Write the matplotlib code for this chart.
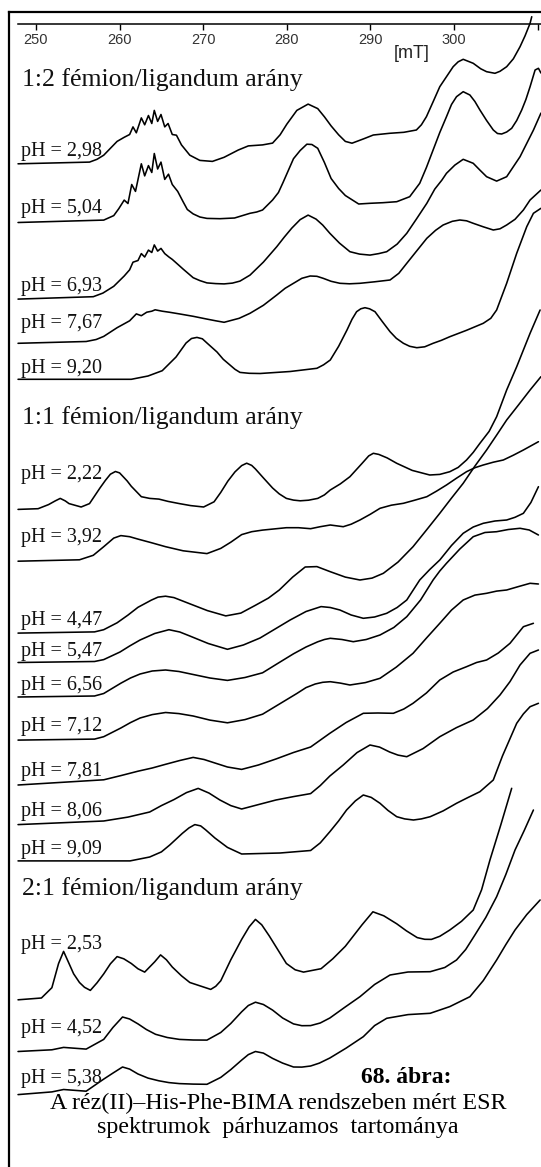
import matplotlib
matplotlib.use('Agg')
import matplotlib.pyplot as plt
from matplotlib.lines import Line2D
import matplotlib.transforms as mtransforms

SERIF = ['Liberation Serif', 'DejaVu Serif']
SANS = ['Liberation Sans', 'DejaVu Sans']

# ---------------- data: (field in mT, signal in arbitrary units) ----------------
group_titles = ["1:2 fémion/ligandum arány", "1:1 fémion/ligandum arány", "2:1 fémion/ligandum arány"]
ph_12 = ["2,98", "5,04", "6,93", "7,67", "9,20"]
ph_11 = ["2,22", "3,92", "4,47", "5,47", "6,56", "7,12", "7,81", "8,06", "9,09"]
ph_21 = ["2,53", "4,52", "5,38"]
tick_values = [250, 260, 270, 280, 290, 300, 310]
tick_labels = ["250", "260", "270", "280", "290", "300", ""]
unit_label = "[mT]"
caption_title = "68. ábra:"
caption_lines = ["A réz(II)–His-Phe-BIMA rendszeben mért ESR", "spektrumok  párhuzamos  tartománya"]

# 1:2 ratio
spec_12_298 = [(247.85,0),(256.4,1.7),(257.3,4.5),(258.1,8.6),(259.7,22.4),(260.55,26.5),(261.2,29.3),(261.6,36.9),(262.0,31),(262.6,45.9),(263.0,39),(263.45,48.3),(263.85,40.3),(264.15,53.4),(264.55,42.4),(264.95,49.3),(265.4,36.9),(265.8,40.3),(266.3,29.3),(266.8,28.6),(267.4,18.9),(268.4,8.6),(269.6,3.4),(271.1,2.4),(272.5,6.5),(274.2,13.8),(275.4,17.9),(277.1,18.9),(278.3,20.7),(279.2,29),(280.0,39.6),(281.2,53.4),(282.55,59.7),(283.7,55.2),(284.5,47),(285.3,37.9),(286.2,29),(287.0,22.4),(287.8,20.6),(289.2,25),(290.35,28.8),(292.3,30.5),(294.0,31.5),(295.5,33.8),(296.1,39),(296.7,47.1),(297.5,62),(298.3,77.1),(299.9,97.1),(300.5,102),(301.1,104.5),(302.3,100.5),(303.2,95),(303.9,92.1),(304.9,90.5),(305.5,92.5),(306.3,97.1),(307.1,105),(307.9,117.1),(308.5,128),(309.1,140.5),(309.3,147.1)]
spec_12_504 = [(247.85,0),(258.1,2.4),(259.3,6.9),(259.9,13.8),(260.55,22.4),(261.0,19),(261.45,38),(261.9,31.1),(262.6,58.7),(263.0,46.6),(263.45,56.9),(263.85,50),(264.15,69),(264.55,53.5),(264.95,60.4),(265.4,43.1),(265.85,48.3),(266.3,38),(266.95,31.1),(267.6,20.7),(268.1,13),(268.8,8.6),(269.6,5.5),(270.45,4.1),(272.0,3.8),(273.75,4.5),(275.6,9.2),(276.4,10.5),(277.1,12.5),(278.3,22.5),(279.0,30),(279.55,40),(280.8,63.8),(281.6,72),(282.4,78.3),(283.0,78),(283.7,74.2),(284.5,60),(285.3,44),(286.2,34),(287.0,27),(288.6,18.5),(289.95,19.2),(291.5,19.8),(293.15,20.8),(294.7,25.8),(295.9,39.2),(296.7,55),(297.5,72.5),(298.3,90),(299.1,105.8),(299.7,118),(300.3,125.8),(301.1,130.8),(301.9,127.5),(302.5,121),(303.1,112.5),(303.9,102),(304.7,92.5),(305.2,89),(305.7,88.5),(306.3,90.5),(306.9,94.2),(307.5,102),(308.1,112.5),(308.6,123),(309.1,135.8),(309.7,152.5),(310.1,154.2),(310.4,149.5)]
spec_12_693 = [(247.85,0),(256.85,2.4),(258.0,6),(259.3,12.8),(260.55,23.1),(261.2,29.3),(261.6,36.9),(262.2,38.6),(262.6,45.5),(263.0,42.1),(263.45,49),(263.85,46.6),(264.15,54.2),(264.55,48),(264.95,50.7),(265.4,45.5),(265.9,42.1),(266.3,39.7),(267.0,34.5),(267.6,30),(268.8,21.4),(269.6,18.5),(270.45,16.2),(271.5,15.5),(272.5,15.2),(273.5,16),(274.4,18),(275.6,24),(277.2,37),(278.8,52.4),(279.7,62),(280.6,71),(281.6,79.5),(282.55,84),(283.5,80),(284.3,74),(285.15,65.8),(286.3,56),(287.55,47.4),(288.7,45),(289.95,44),(291.0,45.5),(291.95,47.4),(293.2,55),(294.35,65.8),(295.5,80),(296.75,95.8),(297.7,110),(298.55,119),(299.1,125.8),(300.1,134),(301.1,139.8),(302.3,135.8),(303.1,129),(303.9,122.4),(305.1,118),(306.3,122.4),(307.9,142.4),(309.5,169),(310.4,186)]
spec_12_767 = [(247.85,0),(256.0,1.8),(257.2,3.8),(258.1,6.9),(259.7,15.6),(261.2,22.5),(262.0,29.4),(262.6,27.6),(263.25,31.1),(263.85,32.1),(264.25,33.5),(265.1,32.1),(266.0,31),(267.15,29.4),(268.8,27),(270.45,24.2),(271.5,22.5),(272.5,21),(274.3,25),(275.6,30),(277.2,38),(278.8,48.3),(279.8,55),(280.8,60),(281.8,65),(282.8,67.3),(283.6,67),(284.35,65),(285.3,62),(286.35,60),(287.5,59.5),(288.75,60),(290.5,61.5),(292.35,63.3),(293.4,70),(294.35,80),(295.5,92),(296.75,105),(297.8,113),(298.7,118.3),(299.8,122),(300.7,123.3),(301.5,122.5),(302.3,120),(303.5,116.5),(304.7,113.3),(305.5,114.5),(306.3,118.3),(307.3,124),(308.3,133.3),(309.1,143.3),(310.4,153.3)]
spec_12_920 = [(247.85,0),(261.4,0),(263.4,3.3),(265.1,8.6),(266.75,22.3),(267.95,36.3),(268.6,40.8),(269.25,41.9),(269.9,40.5),(270.45,36.3),(271.65,27.3),(272.4,20),(273.2,14.3),(273.8,10),(274.4,6.9),(275.5,6.0),(276.8,5.8),(280.4,7.8),(283.6,11),(284.4,14.5),(285.2,19.3),(286.2,33),(287.2,49.3),(287.8,60),(288.35,67.6),(288.85,70.5),(289.35,71.6),(289.9,70.5),(290.55,67.6),(291.4,58),(292.35,47.6),(293.1,41),(293.95,36),(294.7,33),(295.55,31.6),(296.5,32.5),(297.5,36),(298.5,39),(299.5,42.6),(301.5,49),(303.5,56),(304.4,61),(305.1,69.3),(306.3,96),(307.5,126),(308.7,152.6),(309.5,166),(310.4,171)]

# 1:1 ratio
spec_11_222 = [(247.85,0),(250.25,0.7),(251.5,4.8),(252.3,8.5),(252.9,11),(253.5,8.5),(253.95,5.8),(255.4,2.4),(256.4,5.8),(257.65,21.4),(258.3,29),(258.9,35.2),(259.5,37.9),(260.0,36.5),(260.35,33.4),(260.9,28.5),(261.4,23.1),(262.6,12.7),(263.6,11),(264.7,10.3),(265.8,8.0),(267.15,5.8),(268.5,3.8),(270.05,2.4),(271.3,7.6),(272.1,17),(272.95,28.3),(273.8,37.5),(274.6,43.8),(275.2,46.2),(275.8,44),(276.25,40.4),(277.2,31.5),(278.3,21.4),(279.1,15.5),(279.95,11),(280.8,9.3),(281.6,8.6),(282.6,9.2),(283.7,11),(284.5,14.5),(285.2,19.4),(286.4,25.5),(287.55,32.7),(289.0,46),(289.8,53.5),(290.35,56.1),(291.0,55),(292.0,51.5),(293.15,46.1),(295.0,39),(297.1,34.4),(298.3,35),(299.5,37.7),(300.5,42),(301.5,49.4),(302.3,57),(303.1,66.1),(304.2,78),(305.1,92.7),(306.3,119.4),(307.5,142.7),(309.1,176.1),(310.3,199.4)]
spec_11_392 = [(247.85,0),(255.2,1.4),(256.85,5.9),(258.1,14.5),(259.3,23.1),(260.15,25.6),(261.2,24.5),(262.2,22.1),(263.8,18.5),(265.5,14.5),(267.6,10.4),(270.45,7.6),(272.1,12.8),(273.3,19),(274.6,26.6),(275.8,29.5),(277.1,31.1),(279.95,33.5),(281.4,33.5),(282.85,32.5),(284.0,34.5),(285.2,36.2),(286.75,34.5),(287.7,37),(288.75,41.2),(290.0,47),(291.15,52.9),(292.5,56),(293.95,57.9),(295.3,61),(296.75,64.5),(297.9,70),(299.1,76.2),(300.3,83),(301.5,89.5),(302.5,93.5),(303.5,96.2),(304.7,99),(305.9,101.2),(307.1,106),(308.3,111.2),(310.1,119.5)]
spec_11_447 = [(247.85,0),(257.0,1.2),(258.1,3.4),(259.7,10.3),(261.0,18),(262.2,25.8),(263.8,33),(264.6,36),(265.5,36.9),(266.5,35.5),(268.4,29.3),(270.5,22.5),(272.7,17.2),(274.5,20),(276.2,27.6),(277.8,35),(279.1,43.1),(280.7,56),(282.2,66.1),(283.6,66.5),(285.2,61.4),(287.0,56),(288.75,53.1),(290.2,55),(291.55,59.8),(293.3,71),(295.1,86.4),(296.7,103),(298.3,119.8),(299.7,135),(301.1,149.8),(302.5,167),(303.9,183.1),(305.1,198),(306.3,213.1),(307.7,228),(309.1,243.1),(310.4,256.4)]
spec_11_547 = [(247.85,0),(257.0,1),(258.1,2.9),(260.05,10.5),(261.2,16.5),(262.45,22.5),(264.2,29),(265.9,32.8),(267.2,30.5),(268.4,26.5),(270.6,19),(272.9,13.2),(274.8,17.5),(276.8,24.5),(278.6,33.5),(280.4,42.5),(282.3,51),(284.1,55.9),(285.2,55),(286.35,52.5),(287.7,47.5),(289.15,44.2),(290.5,45.5),(291.95,49.2),(293.2,55),(294.35,62.5),(295.9,82.5),(297.1,93),(298.3,102.5),(299.7,117),(301.1,129.2),(302.3,135.5),(303.5,139.2),(304.9,141.5),(306.3,142.5),(307.3,145.2),(308.3,149.2),(309.2,160),(310.1,175.8)]
spec_11_656 = [(247.85,0),(257.0,1),(258.1,3.5),(260.15,13.8),(261.3,19),(262.45,23),(263.9,26),(265.5,27),(267.1,25.5),(268.8,22.5),(270.8,19),(272.9,16.6),(275.0,19.5),(277.1,24.2),(279.0,34),(280.8,43.2),(282.3,50),(283.7,55.2),(284.5,57.5),(285.2,58.7),(286.6,57.5),(287.95,55.3),(289.5,57.5),(291.15,62),(292.8,69.5),(294.35,80.3),(296.0,97),(297.5,117),(298.3,126),(299.1,133.7),(300.7,148),(302.3,160.3),(303.7,164.5),(305.1,165.3),(306.5,167.5),(307.9,168.7),(309.0,167),(310.1,162)]
spec_11_712 = [(247.85,0),(257.0,1),(258.1,3.4),(260.15,12.1),(261.3,17.5),(262.45,22.1),(263.9,25.5),(265.5,27.6),(267.1,26.5),(268.8,24.1),(270.8,20),(272.9,17.3),(275.0,20.5),(277.1,25.9),(279.2,36.5),(281.2,46.6),(282.3,52.5),(283.4,56.1),(284.3,57.8),(285.2,58.4),(286.4,57),(287.55,55.1),(289.4,57.5),(291.15,61.8),(293.1,73),(295.1,86.8),(296.7,102),(298.3,116.8),(299.7,130),(301.1,140.1),(302.5,145),(303.9,146.8),(305.1,149),(306.3,150.1),(307.7,153.5),(309.1,156.8),(310.1,156.1)]
spec_11_781 = [(247.85,0),(258.1,5.2),(260.2,9.5),(262.2,13.8),(263.9,17),(265.5,20.7),(267.2,24.5),(268.8,27.6),(270.1,25.5),(271.4,22),(272.9,18),(274.6,15.6),(276.6,20),(278.7,26),(280.8,32.5),(282.85,38),(285.15,51.7),(287.1,62.5),(289.15,71.7),(290.9,72),(292.75,71.7),(294.0,76),(295.1,81.7),(296.7,92),(298.3,105),(299.9,113),(301.5,118.3),(302.7,122.5),(303.9,125),(305.3,132),(306.7,141.7),(307.5,150),(308.3,158.3),(309.5,161.7)]
spec_11_806 = [(247.85,0),(258.1,3.6),(261.0,7.5),(263.6,12.6),(265.0,19),(266.5,25),(268.0,32),(269.4,36.2),(270.7,31.5),(272.0,24.6),(273.3,19),(274.6,15.6),(276.6,20),(278.7,24.6),(280.8,28),(282.85,31),(284.0,39),(285.15,48.6),(286.75,59.6),(288.4,72),(289.95,79.6),(291.1,77.5),(292.3,72.6),(293.3,69.5),(294.35,67.9),(296.3,76),(298.3,87.9),(300.3,97),(302.3,104.6),(304.0,116),(305.5,129.6),(306.7,143),(307.9,159.6),(309.1,171.3),(310.1,174.6)]
spec_11_909 = [(247.85,0),(261.25,0),(263.6,3.9),(265.0,9),(266.0,15.9),(267.5,27.5),(268.3,33),(269.0,36.3),(269.7,35),(270.3,31),(271.4,22.9),(272.9,13.5),(274.6,6.9),(279.2,7.9),(282.85,10.4),(284.0,18),(285.15,29.2),(286.2,40),(287.15,50.9),(288.2,60),(289.15,65.9),(290.1,63.5),(291.15,57.6),(292.1,50.5),(293.15,44.2),(294.1,42),(295.15,40.9),(296.1,42),(297.15,44.2),(298.7,50),(300.3,57.6),(301.7,63.5),(303.1,69.2),(304.7,80.9),(305.8,105),(307.5,137.6),(308.3,147),(309.1,154.2),(310.1,157.6)]

# 2:1 ratio
spec_21_253 = [(247.85,0),(250.65,1.8),(251.9,12.1),(252.7,36.3),(253.3,48.4),(253.95,36.3),(254.5,26),(255.2,17.3),(255.8,12.5),(256.5,9.4),(257.3,17),(258.1,25.9),(258.9,36),(259.7,43.2),(260.5,41),(261.4,36.3),(262.2,31),(263.0,27.7),(264.2,38),(264.9,44.9),(265.6,40),(266.3,32.8),(267.4,24),(268.4,17.3),(270.9,10.4),(271.5,13.5),(272.1,19),(273.3,40),(274.6,60.4),(275.5,73),(276.25,80.4),(277.0,75),(277.9,63.9),(279.95,36.3),(281.0,30),(282.0,27.7),(284.1,31.1),(285.5,41),(287.0,53.5),(289.0,75),(290.3,88),(291.6,84),(293.15,76),(294.3,69),(295.6,62.2),(296.5,60.5),(297.3,60.4),(298.3,63.5),(299.5,69.8),(300.9,78.5),(302.3,89.8),(303.3,110),(304.3,139.8),(305.6,175),(306.9,211.5)]
spec_21_452 = [(247.85,0),(251.9,1.7),(253.3,4.1),(256.0,2.4),(258.1,12.1),(259.2,24),(260.35,34.5),(261.2,32.5),(262.2,27.6),(263.2,22),(264.3,17.2),(265.7,14),(267.15,12.1),(268.8,11.5),(270.45,11.4),(272.1,19),(273.3,28),(274.6,39.7),(275.4,46),(276.25,49.3),(277.2,47),(278.3,41.4),(279.5,33.5),(280.8,27.6),(281.8,25.8),(282.85,25.9),(284.0,28.5),(285.15,33.5),(286.9,44),(288.75,54.8),(290.5,67),(292.35,76.5),(294.5,79.5),(297.15,79.8),(298.9,84),(300.3,91.5),(301.4,102),(302.5,116.5),(303.8,134),(305.1,154.8),(306.2,177),(307.3,201.5),(308.4,221),(309.5,241.5)]
spec_21_538 = [(247.85,0),(251.9,2.7),(253.3,5.1),(256.0,3.4),(258.1,15.5),(259.2,21.5),(260.35,27.6),(261.2,25.5),(262.2,20.6),(263.4,16.5),(264.7,13.8),(265.9,12),(267.15,11),(268.8,10.5),(270.45,10.3),(272.1,17.2),(273.3,25),(274.6,34.5),(275.4,40),(276.25,43.1),(277.2,41.5),(278.3,36.2),(279.5,31.5),(280.8,27.6),(281.8,27.5),(282.85,28.6),(283.9,31.5),(285.15,36.6),(287.1,46.5),(289.15,57.9),(290.5,69),(291.95,76.3),(294.5,80),(297.15,81.3),(299.5,88),(301.9,97.9),(303.5,114),(305.1,134.6),(306.2,150),(307.3,164.6),(308.7,180),(310.3,194.6)]

# ---------------- layout (positions on a 541 x 1167 pixel canvas) ----------------
W, H = 541, 1167
spectra = [
    (spec_12_298, 163.8), (spec_12_504, 222.5), (spec_12_693, 299.1), (spec_12_767, 343.3), (spec_12_920, 379.3),
    (spec_11_222, 509.4), (spec_11_392, 561.2), (spec_11_447, 633.1), (spec_11_547, 662.5), (spec_11_656, 697.0),
    (spec_11_712, 740.1), (spec_11_781, 785.0), (spec_11_806, 824.6), (spec_11_909, 860.9),
    (spec_21_253, 999.8), (spec_21_452, 1051.5), (spec_21_538, 1094.6),
]
title_y = [86, 424.2, 894.5]
ph_y = [[156.2, 213.2, 290.8, 327.7, 373.5],
        [478.7, 542.2, 624.5, 655.6, 690, 731.5, 776.3, 816, 854],
        [949, 1032.5, 1082.6]]
ph_groups = [ph_12, ph_11, ph_21]

PX_PER_MT = 8.36
X250 = 36.0
xmin = 250 - X250 / PX_PER_MT
xmax = 250 + (W - X250) / PX_PER_MT

fig = plt.figure(figsize=(W / 100, H / 100), dpi=100)
ax = fig.add_axes([0, 0, 1, 1])
ax.set_xlim(xmin, xmax)
ax.set_ylim(H, 0)
ax.patch.set_alpha(0)

for pairs, base in spectra:
    pts = sorted(pairs)
    f = [p[0] for p in pts]
    s = [base - p[1] for p in pts]
    ax.plot(f, s, color='black', lw=1.15, solid_joinstyle='round', solid_capstyle='round')

# scale axis at the top
for side in ['top', 'left', 'right']:
    ax.spines[side].set_visible(False)
ax.spines['bottom'].set_position(('data', 23.5))
ax.spines['bottom'].set_bounds(247.85, xmax)
ax.spines['bottom'].set_linewidth(1.1)
ax.set_xticks(tick_values)
ax.set_xticklabels(tick_labels)
ax.tick_params(axis='x', direction='out', length=4, width=1.0, pad=3,
               labelsize=10.5, labelcolor='#333333')
for lbl in ax.get_xticklabels():
    lbl.set_family(SANS)
ax.set_yticks([])

bt = mtransforms.blended_transform_factory(ax.transAxes, ax.transData)
ax.text(412 / W, 53, unit_label, transform=bt, ha='center', va='center',
        fontsize=13, family=SANS, color='#222222')

for t, y in zip(group_titles, title_y):
    ax.text(22 / W, y, t, transform=bt, ha='left', va='baseline',
            fontsize=18.5, family=SERIF, color='#111111')

for labels, ys in zip(ph_groups, ph_y):
    for lab, y in zip(labels, ys):
        ax.text(21 / W, y, "pH = " + lab, transform=bt, ha='left', va='baseline',
                fontsize=14.5, family=SERIF, color='#111111')

ax.text(406 / W, 1082.7, caption_title, transform=bt, ha='center', va='baseline',
        fontsize=17, family=SERIF, fontweight='bold', color='black')
ax.text(278 / W, 1109, caption_lines[0], transform=bt, ha='center', va='baseline',
        fontsize=17.3, family=SERIF, color='black')
ax.text(278 / W, 1133, caption_lines[1], transform=bt, ha='center', va='baseline',
        fontsize=17.3, family=SERIF, color='black')

# frame (left and top edges)
fx = 8.6 / W
fy = 1 - 12 / H
fig.add_artist(Line2D([fx, fx], [0, fy], transform=fig.transFigure, color='black', lw=1.6))
fig.add_artist(Line2D([fx, 1], [fy, fy], transform=fig.transFigure, color='black', lw=1.6))

fig.savefig('out.png', dpi=100, facecolor='white')
